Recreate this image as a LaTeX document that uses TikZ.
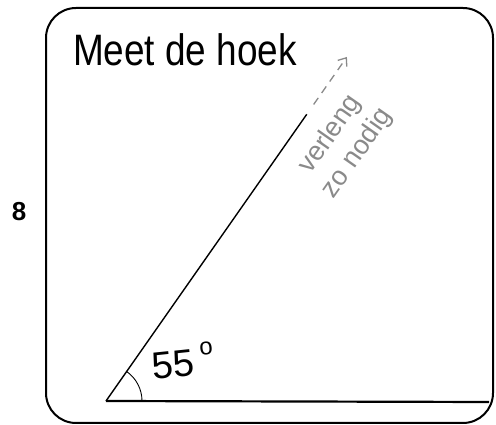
\documentclass[tikz,border=0pt]{standalone}
\usepackage{fontspec}
\setmainfont{Liberation Sans}
\usepackage{xcolor}
\usepackage{tikz}
\usetikzlibrary{arrows.meta,calc}
\definecolor{pencil}{HTML}{8A8A8A}

\begin{document}
\begin{tikzpicture}[x=1pt,y=1pt]
    \useasboundingbox (0,0) rectangle (496,425);
    \draw[line width=2pt,rounded corners=30pt] (46,2) rectangle (493,417);
    \coordinate (O) at (106,24);
    \coordinate (B) at (489,23);
    \coordinate (R) at ($(O)+(55:350)$);
    \coordinate (S) at ($(O)+(55:362)$);
    \coordinate (A) at ($(O)+(55:420)$);
    \draw[line width=2.2pt] (O) -- (B);
    \draw[line width=1.4pt] (O) -- (R);
    \draw[pencil,line width=1.3pt,dash pattern=on 8pt off 6pt,-{Straight Barb[length=7pt,width=11pt]}] (S) -- (A);
    \draw[line width=0.9pt] ($(O)+(36,0)$) arc (0:55:36);
    \node[font=\fontsize{26}{26}\selectfont\bfseries] (nr) at (19,213) {8};
    \node[xscale=0.84,font=\fontsize{44}{44}\selectfont] (title) at (185,375) {Meet de hoek};
    \node[rotate=6,font=\fontsize{38}{38}\selectfont] (hoek) at (183,64) {55\,\raisebox{0.5em}{\fontsize{24}{24}\selectfont o}};
    \node[pencil,rotate=55,align=center,font=\fontsize{27}{33}\selectfont] (hint) at (344,281) {verleng\\ zo nodig};
  \end{tikzpicture}
\end{document}
